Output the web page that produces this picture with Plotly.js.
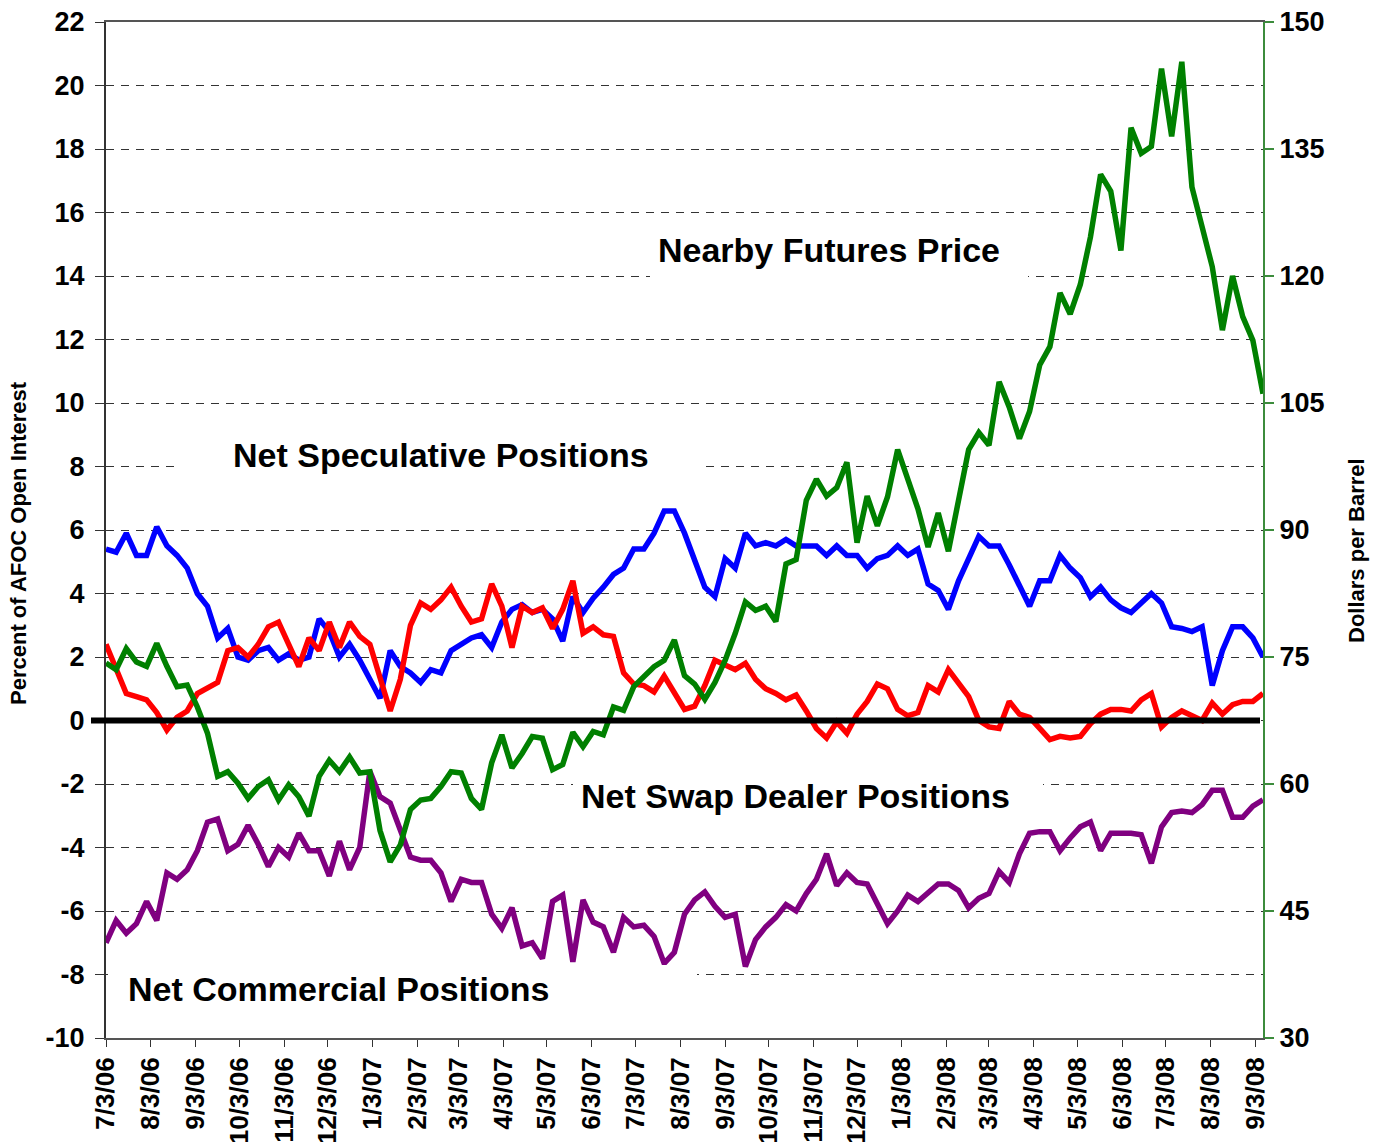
<!DOCTYPE html>
<html>
<head>
<meta charset="utf-8">
<script src="https://cdn.plot.ly/plotly-3.0.1.min.js"></script>
<style>
html,body{margin:0;padding:0;background:#ffffff;}
#chart{width:1380px;height:1142px;}
</style>
</head>
<body>
<div id="chart"></div>
<script>
// ---------------- data (weekly observations starting 7/3/06) ----------------
const START_DATE = '2006-07-03';

const netSpeculative = [
 5.4,5.3,5.9,5.2,5.2,6.1,5.5,5.2,4.8,4.0,
 3.6,2.6,2.9,2.0,1.9,2.2,2.3,1.9,2.1,1.9,
 2.0,3.2,2.8,2.0,2.4,1.9,1.3,0.7,2.2,1.7,
 1.5,1.2,1.6,1.5,2.2,2.4,2.6,2.7,2.3,3.1,
 3.5,3.65,3.4,3.5,3.2,2.5,3.9,3.4,3.85,4.2,
 4.6,4.8,5.4,5.4,5.9,6.6,6.6,5.9,5.1,4.2,
 3.9,5.1,4.8,5.9,5.5,5.6,5.5,5.7,5.5,5.5,
 5.5,5.2,5.5,5.2,5.2,4.8,5.1,5.2,5.5,5.2,
 5.4,4.3,4.1,3.5,4.4,5.1,5.8,5.5,5.5,4.9,
 4.2,3.6,4.4,4.4,5.2,4.8,4.5,3.9,4.2,3.8,
 3.55,3.4,3.7,4.0,3.7,2.95,2.9,2.8,2.95,1.1,
 2.2,2.95,2.95,2.6,2.0
];

const netSwapDealer = [
 2.4,1.6,0.85,0.75,0.65,0.25,-0.3,0.1,0.3,0.85,
 1.05,1.2,2.2,2.3,2.0,2.4,2.95,3.1,2.4,1.7,
 2.6,2.2,3.1,2.3,3.1,2.65,2.4,1.3,0.3,1.3,
 3.0,3.7,3.5,3.8,4.2,3.6,3.1,3.2,4.3,3.6,
 2.3,3.6,3.4,3.55,2.9,3.5,4.4,2.75,2.95,2.7,
 2.65,1.5,1.15,1.1,0.9,1.4,0.85,0.35,0.45,1.1,
 1.9,1.75,1.6,1.8,1.3,1.0,0.85,0.65,0.8,0.3,
 -0.25,-0.55,-0.05,-0.4,0.2,0.6,1.15,1.0,0.35,0.15,
 0.25,1.1,0.9,1.6,1.15,0.75,0.0,-0.2,-0.25,0.6,
 0.2,0.1,-0.25,-0.6,-0.5,-0.55,-0.5,-0.1,0.2,0.35,
 0.35,0.3,0.65,0.85,-0.2,0.1,0.3,0.15,0.0,0.55,
 0.2,0.5,0.6,0.6,0.85
];

const netCommercial = [
 -7.0,-6.3,-6.7,-6.4,-5.7,-6.3,-4.8,-5.0,-4.7,-4.1,
 -3.2,-3.1,-4.1,-3.9,-3.3,-3.9,-4.6,-4.0,-4.3,-3.55,
 -4.1,-4.1,-4.9,-3.8,-4.7,-4.0,-1.6,-2.4,-2.6,-3.45,
 -4.3,-4.4,-4.4,-4.8,-5.7,-5.0,-5.1,-5.1,-6.1,-6.55,
 -5.9,-7.1,-7.0,-7.5,-5.7,-5.5,-7.6,-5.65,-6.35,-6.5,
 -7.3,-6.2,-6.5,-6.45,-6.8,-7.65,-7.3,-6.1,-5.65,-5.4,
 -5.85,-6.2,-6.1,-7.75,-6.9,-6.5,-6.2,-5.8,-6.0,-5.45,
 -5.0,-4.2,-5.2,-4.8,-5.1,-5.15,-5.8,-6.4,-6.0,-5.5,
 -5.7,-5.4,-5.15,-5.15,-5.35,-5.9,-5.6,-5.45,-4.75,-5.1,
 -4.2,-3.55,-3.5,-3.5,-4.1,-3.7,-3.35,-3.2,-4.1,-3.55,
 -3.55,-3.55,-3.6,-4.5,-3.35,-2.9,-2.85,-2.9,-2.65,-2.2,
 -2.2,-3.05,-3.05,-2.7,-2.5
];

const nearbyPrice = [
 74.3,73.5,76.0,74.4,73.9,76.6,73.9,71.5,71.7,69.1,
 66.0,60.9,61.45,60.1,58.3,59.7,60.5,58.1,59.9,58.5,
 56.2,60.9,62.8,61.45,63.2,61.3,61.45,54.5,50.8,52.8,
 57.0,58.1,58.3,59.7,61.45,61.3,58.3,57.0,62.5,65.8,
 61.9,63.6,65.6,65.4,61.7,62.3,66.1,64.4,66.2,65.8,
 69.1,68.7,71.5,72.7,73.85,74.6,77.0,72.8,71.8,70.0,
 72.0,74.6,77.8,81.5,80.5,81.0,79.2,86.0,86.5,93.5,
 96.0,94.0,95.0,98.0,88.5,94.0,90.5,93.9,99.5,96.0,
 92.5,88.0,92.0,87.5,93.2,99.5,101.5,100.0,107.5,104.5,
 100.8,104.0,109.5,111.65,118.0,115.5,119.0,124.6,132.0,130.0,
 123.0,137.5,134.5,135.3,144.5,136.5,145.3,130.5,125.8,121.1,
 113.6,120.0,115.2,112.4,106.1
];

const monthTicks = [
 '2006-07-03','2006-08-03','2006-09-03','2006-10-03','2006-11-03','2006-12-03',
 '2007-01-03','2007-02-03','2007-03-03','2007-04-03','2007-05-03','2007-06-03',
 '2007-07-03','2007-08-03','2007-09-03','2007-10-03','2007-11-03','2007-12-03',
 '2008-01-03','2008-02-03','2008-03-03','2008-04-03','2008-05-03','2008-06-03',
 '2008-07-03','2008-08-03','2008-09-03'
];

const leftTickVals = [-10,-8,-6,-4,-2,0,2,4,6,8,10,12,14,16,18,20,22];
const leftTickText = ['-10','-8','-6','-4','-2','0','2','4','6','8','10','12','14','16','18','20','22'];

const seriesLabels = {
  price: 'Nearby Futures Price',
  spec: 'Net Speculative Positions',
  swap: 'Net Swap Dealer Positions',
  comm: 'Net Commercial Positions'
};
const leftTitle = 'Percent of AFOC Open Interest';
const rightTitle = 'Dollars per Barrel';

// ---------------- build ----------------
function weeklyDates(start, n) {
  const d0 = new Date(start + 'T00:00:00Z').getTime();
  const out = [];
  for (let i = 0; i < n; i++) {
    out.push(new Date(d0 + i * 7 * 86400000).toISOString().slice(0, 10));
  }
  return out;
}
const dates = weeklyDates(START_DATE, netSpeculative.length);

const FONT = 'Liberation Sans, Arial, sans-serif';

// pixel helpers for layout (plot area 106..1263 x 22..1038)
const PL = 106, PR = 1263, PT = 22, PB = 1038;
const px = x => (x - PL) / (PR - PL);
const py = y => (PB - y) / (PB - PT);

const LW = 5.5;
const traces = [
  {x: dates, y: netCommercial, type: 'scatter', mode: 'lines', name: seriesLabels.comm,
   line: {color: '#800080', width: LW}, yaxis: 'y'},
  {x: dates, y: netSpeculative, type: 'scatter', mode: 'lines', name: seriesLabels.spec,
   line: {color: '#0000FF', width: LW}, yaxis: 'y'},
  {x: dates, y: netSwapDealer, type: 'scatter', mode: 'lines', name: seriesLabels.swap,
   line: {color: '#FF0000', width: LW}, yaxis: 'y'},
  {x: dates, y: nearbyPrice, type: 'scatter', mode: 'lines', name: seriesLabels.price,
   line: {color: '#008000', width: LW}, yaxis: 'y2'}
];

function maskRect(x0, x1, y0, y1) {
  return {type: 'rect', xref: 'paper', yref: 'paper', x0: px(x0), x1: px(x1), y0: py(y1), y1: py(y0),
          fillcolor: '#ffffff', line: {width: 0}, layer: 'above'};
}
function label(text, xLeft, yMid) {
  return {xref: 'paper', yref: 'paper', x: px(xLeft), y: py(yMid), xanchor: 'left', yanchor: 'middle',
          text: text, showarrow: false, font: {family: FONT, size: 34, color: '#000', weight: 'bold'}};
}

const layout = {
  width: 1380, height: 1142,
  margin: {l: 106, r: 117, t: 22, b: 104, pad: 0},
  paper_bgcolor: '#ffffff', plot_bgcolor: '#ffffff',
  showlegend: false,
  font: {family: FONT, color: '#000'},
  xaxis: {
    type: 'date', range: ['2006-07-03', '2008-09-08'],
    tickmode: 'array', tickvals: monthTicks, tickformat: '%-m/%-d/%y', tickangle: -90,
    tickfont: {family: FONT, size: 26, color: '#000', weight: 'bold'},
    ticks: 'outside', ticklen: 7, tickcolor: '#333', tickwidth: 1,
    showline: true, linecolor: '#555', linewidth: 2, mirror: true,
    showgrid: false, zeroline: false
  },
  yaxis: {
    range: [-10, 22], tickmode: 'array', tickvals: leftTickVals, ticktext: leftTickText,
    tickfont: {family: FONT, size: 27, color: '#000', weight: 'bold'},
    ticks: 'outside', ticklen: 9, tickcolor: '#333', tickwidth: 1, ticklabelstandoff: 5,
    showline: true, linecolor: '#333', linewidth: 2,
    showgrid: true, gridcolor: '#333', gridwidth: 1, griddash: '8px,7px',
    zeroline: false
  },
  yaxis2: {
    range: [30, 150], tick0: 30, dtick: 15, overlaying: 'y', side: 'right',
    tickfont: {family: FONT, size: 27, color: '#000', weight: 'bold'},
    ticks: 'outside', ticklen: 9, tickcolor: '#3c8c3c', tickwidth: 2,
    showline: true, linecolor: '#3c8c3c', linewidth: 2,
    showgrid: false, zeroline: false
  },
  shapes: [
    maskRect(650, 1028, 228, 283),
    maskRect(176, 706, 430, 490),
    maskRect(573, 1043, 770, 822),
    maskRect(108, 697, 965, 1015),
    {type: 'line', xref: 'paper', yref: 'y', x0: px(91), x1: px(1260), y0: 0, y1: 0,
     line: {color: '#000', width: 6}, layer: 'above'}
  ],
  annotations: [
    label(seriesLabels.price, 656, 250),
    label(seriesLabels.spec, 231, 455),
    label(seriesLabels.swap, 579, 796),
    label(seriesLabels.comm, 126, 989),
    {xref: 'paper', yref: 'paper', x: px(18), y: py(543), xanchor: 'center', yanchor: 'middle',
     text: leftTitle, textangle: -90, showarrow: false,
     font: {family: FONT, size: 22, color: '#000', weight: 'bold'}},
    {xref: 'paper', yref: 'paper', x: px(1356), y: py(551), xanchor: 'center', yanchor: 'middle',
     text: rightTitle, textangle: -90, showarrow: false,
     font: {family: FONT, size: 22, color: '#000', weight: 'bold'}}
  ]
};

Plotly.newPlot('chart', traces, layout, {staticPlot: true, displayModeBar: false});
</script>
</body>
</html>
